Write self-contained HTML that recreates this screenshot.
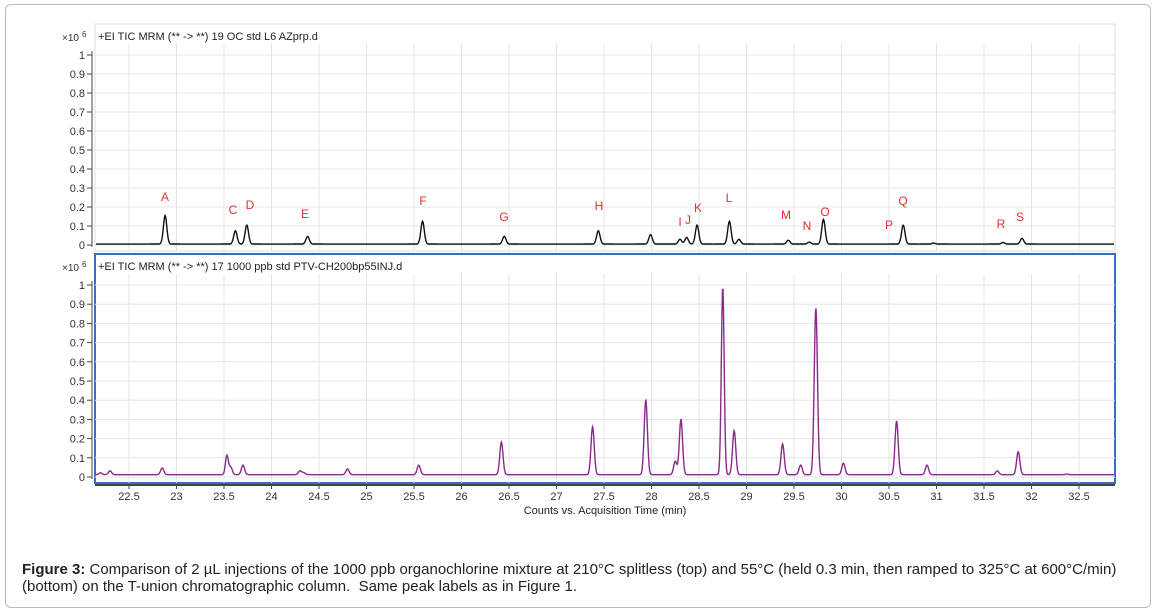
<!DOCTYPE html>
<html><head><meta charset="utf-8"><style>
body{margin:0;background:#fff;width:1156px;height:611px;overflow:hidden;font-family:"Liberation Sans",sans-serif}
.box{position:absolute;left:5px;top:4px;width:1144px;height:602px;border:1px solid #bbb;border-radius:6px}
.cap{position:absolute;left:22px;top:561px;font-size:15px;color:#222;line-height:17px;width:1125px}
</style></head><body>
<div class="box"></div>
<svg id="s" width="1156" height="611" style="position:absolute;left:0;top:0" font-family="Liberation Sans, sans-serif"></svg>
<div class="cap"><b>Figure 3:</b> Comparison of 2 µL injections of the 1000 ppb organochlorine mixture at 210°C splitless (top) and 55°C (held 0.3 min, then ramped to 325°C at 600°C/min) (bottom) on the T-union chromatographic column.&nbsp; Same peak labels as in Figure 1.</div>
<script>
const s=document.getElementById('s');let h='';
const X=t=>129+(t-22.5)*95;
function panel(top0,yTop,yZero,title,blue){
  const step=(yZero-yTop)/10;
  h+=`<rect x="95" y="${top0}" width="1020" height="${yZero+6-top0}" fill="#fff" stroke="${blue?'#3a6fc0':'#ddd'}" stroke-width="${blue?2:1}"/>`;
  for(let i=0;i<=10;i++){const y=yZero-i*step;h+=`<line x1="95" x2="1115" y1="${y}" y2="${y}" stroke="#e4e4e4"/>`;
   h+=`<line x1="87" x2="92" y1="${y}" y2="${y}" stroke="#444"/><text x="85" y="${y+4}" font-size="11" text-anchor="end" fill="#333">${i==0?0:i==10?1:'0.'+i}</text>`;}
  for(let t=22.5;t<=32.5;t+=0.5){const x=X(t);h+=`<line x1="${x}" x2="${x}" y1="${top0+20}" y2="${yZero+6}" stroke="#e4e4e4"/>`;}
  h+=`<line x1="92" x2="92" y1="${yTop-4}" y2="${yZero+2}" stroke="#444"/>`;
  h+=`<text x="62" y="${top0+17}" font-size="10" fill="#333">×10</text><text x="82" y="${top0+13}" font-size="8" fill="#333">6</text>`;
  h+=`<text x="98" y="${top0+16}" font-size="11" fill="#222">${title}</text>`;
}
function trace(peaks,yZero,scale,base,col,sig){
  let d='';for(let px=96;px<=1114;px+=0.5){const t=22.5+(px-129)/95;let v=base;
   for(const p of peaks){const sg=p[2]||sig;v+=p[1]*Math.exp(-((t-p[0])**2)/(2*sg*sg));}
   d+=(d?'L':'M')+px+' '+(yZero-v*scale).toFixed(1);}
  h+=`<path d="${d}" fill="none" stroke="${col}" stroke-width="1.4"/>`;
}
panel(24,55,245,'+EI TIC MRM (** -&gt; **) 19 OC std L6 AZprp.d',false);
panel(254,285,477,'+EI TIC MRM (** -&gt; **) 17 1000 ppb std PTV-CH200bp55INJ.d',true);
trace([[22.88,.15],[23.62,.07],[23.74,.10],[24.38,.04],[25.59,.12],[26.45,.04],[27.44,.07],[27.99,.05],[28.30,.025],[28.37,.035],[28.48,.10],[28.82,.12],[28.92,.025],[29.44,.02],[29.66,.01],[29.81,.13],[30.65,.10],[30.97,.005],[31.70,.008],[31.90,.03]],245,190,.005,'#111',.018);
trace([[22.2,.01],[22.3,.02],[22.85,.035],[23.53,.10,.015],[23.57,.04],[23.7,.05],[24.3,.02],[24.34,.01],[24.8,.03],[25.55,.05],[26.42,.17],[27.38,.25],[27.94,.39],[28.25,.07],[28.31,.29],[28.75,.98,.015],[28.87,.23],[29.38,.16],[29.57,.05],[29.73,.87,.017],[30.02,.06],[30.58,.28],[30.9,.05],[31.64,.02],[31.86,.12],[32.37,.003]],477,192,.012,'#8a2a8a',.017);
h+=`<line x1="95" x2="1115" y1="485" y2="485" stroke="#444" stroke-width="2"/>`;
for(let t=22.5;t<=32.5;t+=0.5){const x=X(t);h+=`<line x1="${x}" x2="${x}" y1="485" y2="489" stroke="#444"/><text x="${x}" y="500" font-size="11" text-anchor="middle" fill="#333">${t}</text>`;}
h+=`<text x="605" y="514" font-size="11" text-anchor="middle" fill="#222">Counts vs. Acquisition Time (min)</text>`;
const L=[['A',165,201],['C',233,214],['D',250,209],['E',305,218],['F',423,205],['G',504,221],['H',599,210],['I',680,226],['J',688,224],['K',698,212],['L',729,202],['M',786,219],['N',807,230],['O',825,216],['P',889,229],['Q',903,205],['R',1001,228],['S',1020,221]];
for(const l of L)h+=`<text x="${l[1]}" y="${l[2]}" font-size="12" text-anchor="middle" fill="#e03030">${l[0]}</text>`;
s.innerHTML=h;
</script>
</body></html>
